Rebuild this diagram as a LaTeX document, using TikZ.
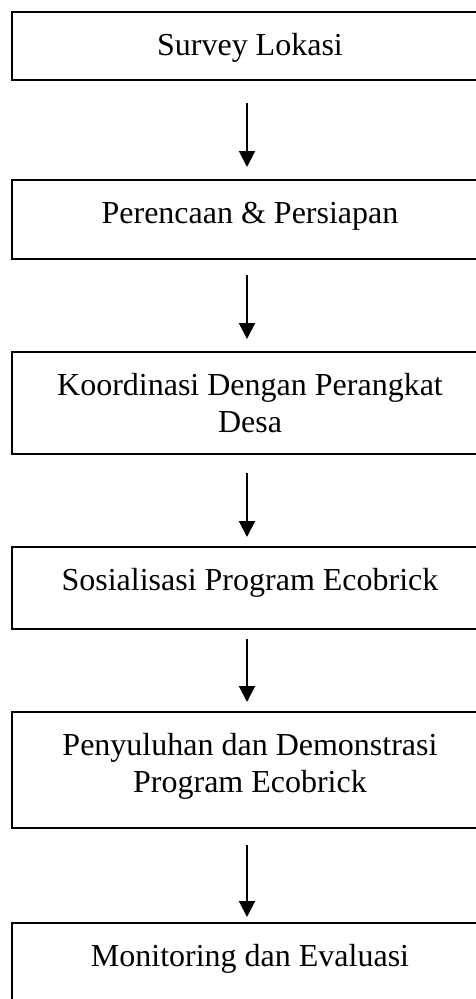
\documentclass[tikz,border=0pt]{standalone}
\usepackage{fontspec}
\setmainfont{Liberation Serif}
\usetikzlibrary{arrows.meta,positioning}
\newcommand{\boxtext}[2]{\parbox[c][#1][t]{476pt}{\centering\vspace*{18pt}\strut #2\par}}

\begin{document}
\begin{tikzpicture}[x=1pt,y=1pt,
  stepbox/.style={draw,line width=2.6pt,inner sep=0pt,outer sep=0pt,
    font=\fontsize{32}{37}\selectfont},
  flow/.style={line width=2pt,-{Triangle[width=16pt,length=16pt]}}]
\clip (0,0) rectangle (476,-999);
\node[stepbox,anchor=north] (survey) at (250,-12) {\boxtext{68pt}{Survey Lokasi}};
\node[stepbox,below=100pt of survey] (plan) {\boxtext{79pt}{Perencaan \& Persiapan}};
\node[stepbox,below=93pt of plan] (coord) {\boxtext{102pt}{Koordinasi Dengan Perangkat\\Desa}};
\node[stepbox,below=93pt of coord] (sosial) {\boxtext{82pt}{Sosialisasi Program Ecobrick}};
\node[stepbox,below=83pt of sosial] (penyuluhan) {\boxtext{116pt}{Penyuluhan dan Demonstrasi\\Program Ecobrick}};
\node[stepbox,below=95pt of penyuluhan] (monitor) {\boxtext{100pt}{Monitoring dan Evaluasi}};
% arrows between the steps
\draw[flow,shorten <=23pt,shorten >=13pt] ([xshift=-3pt]survey.south) -- ([xshift=-3pt]plan.north);
\draw[flow,shorten <=16pt,shorten >=13pt] ([xshift=-3pt]plan.south) -- ([xshift=-3pt]coord.north);
\draw[flow,shorten <=19pt,shorten >=10pt] ([xshift=-3pt]coord.south) -- ([xshift=-3pt]sosial.north);
\draw[flow,shorten <=10pt,shorten >=10pt] ([xshift=-3pt]sosial.south) -- ([xshift=-3pt]penyuluhan.north);
\draw[flow,shorten <=17pt,shorten >=6pt] ([xshift=-3pt]penyuluhan.south) -- ([xshift=-3pt]monitor.north);
\end{tikzpicture}
\end{document}
